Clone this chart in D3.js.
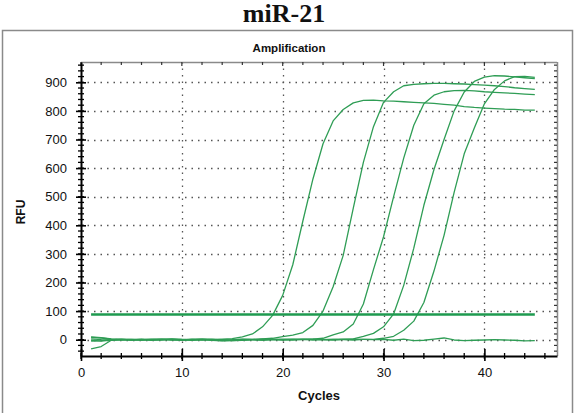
<!DOCTYPE html>
<html>
<head>
<meta charset="utf-8">
<script src="https://cdn.jsdelivr.net/npm/d3@7"></script>
<style>
  html, body { margin: 0; padding: 0; background: #fff; }
  svg { display: block; }
  text { font-family: "Liberation Sans", Arial, sans-serif; }
</style>
</head>
<body>
<svg id="chart" width="577" height="413"></svg>
<script>
// ---- Data ----
const cycles = d3.range(1, 46); // 1..45
const curveA = [8,6,2,0,1,-1,2,1,0,-2,1,2,0,2,4,10,20,45,85,155,262,415,562,685,765,805,828,837,838,835,834,832,830,828,826,823,820,815,812,810,808,806,805,803,803];
const curveB = [3,0,-2,1,-1,2,0,-1,1,0,-2,0,1,-1,0,2,1,3,5,11,16,25,50,100,185,295,460,620,745,830,867,888,893,895,896,896,895,894,892,890,888,885,881,878,875];
const curveC = [-5,-3,0,-1,0,1,-2,0,2,-1,0,1,-1,-3,-2,0,1,-1,0,2,1,0,2,5,17,27,55,125,245,360,500,635,750,825,855,867,871,872,870,867,865,863,861,859,857];
const curveD = [10,7,3,1,-1,0,1,2,-1,0,2,0,-2,-4,-3,-1,0,2,1,0,-1,1,2,0,1,2,3,12,22,45,90,190,320,470,595,700,800,866,903,918,923,922,919,916,913];
const curveE = [-2,-5,-1,2,0,-1,0,1,0,1,-1,2,1,-2,-1,1,0,-1,1,0,2,1,-1,0,1,0,-1,1,1,5,12,33,65,130,240,365,515,650,740,825,875,905,920,921,917];
const curveF = [-32,-24,-2,0,1,0,-1,1,3,1,0,-1,1,0,-3,-2,0,1,0,-1,0,2,1,0,-1,1,2,1,0,1,-2,2,-3,-2,2,6,-1,-3,-2,-1,0,-1,-2,-4,-3];
const seriesNames = ["A","B","C","D","E","F"];
const seriesValues = [curveA, curveB, curveC, curveD, curveE, curveF];
const threshold = 88;
const thresholdCycles = [1, 45];
const xTickValues = [0, 10, 20, 30, 40];
const yTickValues = [0, 100, 200, 300, 400, 500, 600, 700, 800, 900];
const chartTitle = "miR-21";
const panelTitle = "Amplification";
const xLabel = "Cycles";
const yLabel = "RFU";

// ---- Layout ----
const svg = d3.select("#chart");
const L = 81, R = 557, T = 62, B = 356;
const x = d3.scaleLinear().domain([0, 47.2]).range([L, R]);
const y = d3.scaleLinear().domain([-57, 971]).range([B, T]);

// Outer panel
svg.append("rect").attr("x", 2.5).attr("y", 30.5).attr("width", 570).attr("height", 400)
  .attr("fill", "none").attr("stroke", "#8a8a8a").attr("stroke-width", 1.5);

svg.append("text").attr("x", 284).attr("y", 22).attr("text-anchor", "middle")
  .style("font-family", "'Liberation Serif', 'Times New Roman', serif")
  .style("font-weight", "bold").style("font-size", "26px").attr("fill", "#111").text(chartTitle);

svg.append("text").attr("x", 289).attr("y", 52).attr("text-anchor", "middle")
  .style("font-weight", "bold").style("font-size", "11.5px").attr("fill", "#111").text(panelTitle);

// Grid
const grid = svg.append("g");
grid.selectAll("line.hg").data(yTickValues).join("line")
  .attr("x1", L).attr("x2", R).attr("y1", d => Math.round(y(d)) + 0.5).attr("y2", d => Math.round(y(d)) + 0.5)
  .attr("stroke", "#555").attr("stroke-width", 1.3).attr("stroke-dasharray", "1.5,5");
grid.selectAll("line.vg").data(xTickValues.filter(d => d > 0)).join("line")
  .attr("y1", T).attr("y2", B).attr("x1", d => Math.round(x(d)) + 0.5).attr("x2", d => Math.round(x(d)) + 0.5)
  .attr("stroke", "#555").attr("stroke-width", 1.3).attr("stroke-dasharray", "1.5,5");

// Top/right frame
svg.append("line").attr("x1", L).attr("x2", R).attr("y1", T + 0.5).attr("y2", T + 0.5).attr("stroke", "#8a8a8a").attr("stroke-width", 1.5);
svg.append("line").attr("x1", R + 0.5).attr("x2", R + 0.5).attr("y1", T).attr("y2", B).attr("stroke", "#8a8a8a").attr("stroke-width", 1.5);

// Minor ticks
const xMinor = d3.range(0, 47, 2);
const yMinor = d3.range(-40, 971, 20);
svg.selectAll("line.xt").data(xMinor).join("line")
  .attr("x1", d => x(d)).attr("x2", d => x(d)).attr("y1", T).attr("y2", d => T + (d % 10 === 0 ? 4 : 3))
  .attr("stroke", "#333").attr("stroke-width", 1.2);
svg.selectAll("line.yt").data(yMinor).join("line")
  .attr("x1", R - 3).attr("x2", R).attr("y1", d => y(d)).attr("y2", d => y(d))
  .attr("stroke", "#333").attr("stroke-width", 1.2);
svg.selectAll("line.xb").data(xMinor).join("line")
  .attr("x1", d => x(d)).attr("x2", d => x(d)).attr("y1", B - 3).attr("y2", B + 3)
  .attr("stroke", "#000").attr("stroke-width", 1.3);
svg.selectAll("line.yl").data(yMinor).join("line")
  .attr("x1", L - 3).attr("x2", L + 3).attr("y1", d => y(d)).attr("y2", d => y(d))
  .attr("stroke", "#000").attr("stroke-width", 1.3);

// Axes
const xAxis = d3.axisBottom(x).tickValues(xTickValues).tickSize(5).tickPadding(7).tickSizeOuter(0);
const gx = svg.append("g").attr("transform", `translate(0,${B})`).call(xAxis);
gx.select(".domain").attr("stroke", "#000").attr("stroke-width", 2);
gx.selectAll(".tick line").attr("y1", -7).attr("y2", 5).attr("stroke-width", 1.6);
gx.selectAll(".tick text").style("font-size", "13px").attr("fill", "#111").attr("font-family", null);

const yAxis = d3.axisLeft(y).tickValues(yTickValues).tickSize(5).tickPadding(9).tickSizeOuter(0);
const gy = svg.append("g").attr("transform", `translate(${L},0)`).call(yAxis);
gy.select(".domain").attr("stroke", "#000").attr("stroke-width", 2);
gy.selectAll(".tick line").attr("x1", -5).attr("x2", 5).attr("stroke-width", 1.6);
gy.selectAll(".tick text").style("font-size", "13px").attr("fill", "#111").attr("font-family", null);

svg.append("text").attr("x", 319).attr("y", 400).attr("text-anchor", "middle")
  .style("font-weight", "bold").style("font-size", "13px").attr("fill", "#111").text(xLabel);
svg.append("text").attr("transform", "translate(25,212) rotate(-90)").attr("text-anchor", "middle")
  .style("font-weight", "bold").style("font-size", "12px").attr("fill", "#111").text(yLabel);

// Curves
const line = d3.line().x((d, i) => x(cycles[i])).y(d => y(d));
const plot = svg.append("g");
plot.selectAll("path.curve").data(seriesValues).join("path")
  .attr("class", "curve").attr("d", line)
  .attr("fill", "none").attr("stroke", "#2f9d55").attr("stroke-width", 1.3).attr("stroke-linejoin", "round");

// Threshold
plot.append("line").attr("x1", x(thresholdCycles[0])).attr("x2", x(thresholdCycles[1]))
  .attr("y1", y(threshold)).attr("y2", y(threshold))
  .attr("stroke", "#1e9a4f").attr("stroke-width", 2.6);
</script>
</body>
</html>
